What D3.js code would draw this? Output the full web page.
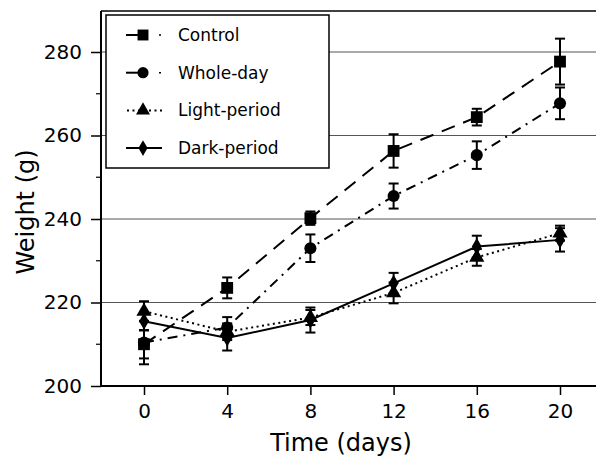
<!DOCTYPE html>
<html>
<head>
<meta charset="utf-8">
<script src="https://cdn.jsdelivr.net/npm/d3@7"></script>
<style>
  html, body { margin: 0; padding: 0; background: #fff; }
  svg { display: block; }
  text { font-family: "DejaVu Sans", Verdana, sans-serif; fill: #000; }
</style>
</head>
<body>
<svg id="chart" width="596" height="461"></svg>
<script>
// ---- data ----
const days = [0, 4, 8, 12, 16, 20];
const seriesNames = ["Control", "Whole-day", "Light-period", "Dark-period"];
const controlMean = [210.0, 223.5, 240.2, 256.3, 264.4, 277.7];
const controlErr  = [3.4, 2.5, 1.6, 4.0, 2.0, 5.5];
const wholeMean   = [210.4, 214.0, 233.0, 245.5, 255.3, 267.7];
const wholeErr    = [5.2, 2.5, 3.3, 3.0, 3.3, 3.8];
const lightMean   = [217.9, 213.0, 216.4, 222.3, 230.8, 236.6];
const lightErr    = [2.4, 2.0, 1.8, 2.5, 2.0, 1.8];
const darkMean    = [215.5, 211.5, 215.8, 224.6, 233.4, 235.0];
const darkErr     = [2.2, 3.0, 3.0, 2.5, 2.6, 2.8];
const yTicks = [200, 220, 240, 260, 280];
const yMinorTicks = [210, 230, 250, 270];
const xTicks = [0, 4, 8, 12, 16, 20];

const series = [
  {name: seriesNames[0], mean: controlMean, err: controlErr, sym: d3.symbolSquare, size: 140, dash: "14,9"},
  {name: seriesNames[1], mean: wholeMean, err: wholeErr, sym: d3.symbolCircle, size: 115, dash: "10,6,2,6"},
  {name: seriesNames[2], mean: lightMean, err: lightErr, sym: d3.symbolTriangle, size: 100, dash: "2,3.5"},
  {name: seriesNames[3], mean: darkMean, err: darkErr, sym: d3.symbolDiamond, size: 85, dash: null}
];

const svg = d3.select("#chart");
const pLeft = 101, pTop = 11, pBottom = 386, pRight = 596;

const x = d3.scaleLinear().domain([0, 20]).range([144, 560]);
const y = d3.scaleLinear().domain([200, 280]).range([pBottom, 52]);

// gridlines
svg.append("g").selectAll("line").data(yTicks.slice(1)).join("line")
  .attr("x1", pLeft).attr("x2", pRight)
  .attr("y1", d => y(d)).attr("y2", d => y(d))
  .attr("stroke", "#555").attr("stroke-width", 1.2);

// top frame
svg.append("line").attr("x1", pLeft).attr("x2", pRight).attr("y1", pTop).attr("y2", pTop)
  .attr("stroke", "#000").attr("stroke-width", 1.5);

// y axis
const yAxis = svg.append("g").attr("transform", `translate(${pLeft},0)`)
  .call(d3.axisLeft(y).tickValues(yTicks).tickSize(10).tickPadding(9).tickFormat(d3.format("d")));
yAxis.select(".domain").remove();
yAxis.selectAll(".tick line").attr("stroke-width", 1.5);
yAxis.selectAll("text").style("font-size", "20px").attr("font-family", null);
svg.append("g").attr("transform", `translate(${pLeft},0)`)
  .selectAll("line").data(yMinorTicks).join("line")
  .attr("x1", -5).attr("x2", 0).attr("y1", d => y(d)).attr("y2", d => y(d))
  .attr("stroke", "#000").attr("stroke-width", 1.2);
svg.append("line").attr("x1", pLeft).attr("x2", pLeft).attr("y1", pTop).attr("y2", pBottom)
  .attr("stroke", "#000").attr("stroke-width", 2);

// x axis
const xAxis = svg.append("g").attr("transform", `translate(0,${pBottom})`)
  .call(d3.axisBottom(x).tickValues(xTicks).tickSize(9).tickPadding(9));
xAxis.select(".domain").remove();
xAxis.selectAll(".tick line").attr("stroke-width", 1.5);
xAxis.selectAll("text").style("font-size", "20px").attr("font-family", null);
svg.append("line").attr("x1", pLeft).attr("x2", pRight).attr("y1", pBottom).attr("y2", pBottom)
  .attr("stroke", "#000").attr("stroke-width", 2);

// axis titles
svg.append("text").attr("x", 341).attr("y", 451).attr("text-anchor", "middle")
  .style("font-size", "24px").text("Time (days)");
svg.append("text").attr("transform", "translate(34,212) rotate(-90)").attr("text-anchor", "middle")
  .style("font-size", "24px").text("Weight (g)");

// series
const line = d3.line().x((d, i) => x(days[i])).y(d => y(d));
series.forEach(s => {
  const g = svg.append("g");
  g.append("path").datum(s.mean).attr("d", line)
    .attr("fill", "none").attr("stroke", "#000").attr("stroke-width", 2)
    .attr("stroke-dasharray", s.dash);
  const eb = g.selectAll(".eb").data(s.mean).join("g");
  eb.append("line").attr("x1", (d, i) => x(days[i])).attr("x2", (d, i) => x(days[i]))
    .attr("y1", (d, i) => y(d - s.err[i])).attr("y2", (d, i) => y(d + s.err[i]))
    .attr("stroke", "#000").attr("stroke-width", 2);
  [-1, 1].forEach(sg => {
    eb.append("line").attr("x1", (d, i) => x(days[i]) - 5).attr("x2", (d, i) => x(days[i]) + 5)
      .attr("y1", (d, i) => y(d + sg * s.err[i])).attr("y2", (d, i) => y(d + sg * s.err[i]))
      .attr("stroke", "#000").attr("stroke-width", 2);
  });
  g.selectAll(".m").data(s.mean).join("path")
    .attr("transform", (d, i) => `translate(${x(days[i])},${y(d)})`)
    .attr("d", d3.symbol().type(s.sym).size(s.size)).attr("fill", "#000");
});

// legend
const lg = svg.append("g");
lg.append("rect").attr("x", 106).attr("y", 15).attr("width", 223).attr("height", 153)
  .attr("fill", "#fff").attr("stroke", "#000").attr("stroke-width", 1.5);
series.forEach((s, i) => {
  const ly = 35 + i * 37.7;
  if (s.dash === null) {
    lg.append("line").attr("x1", 126).attr("x2", 162).attr("y1", ly).attr("y2", ly)
      .attr("stroke", "#000").attr("stroke-width", 2);
  } else if (s.name === "Light-period") {
    lg.append("line").attr("x1", 127).attr("x2", 162).attr("y1", ly).attr("y2", ly)
      .attr("stroke", "#000").attr("stroke-width", 2).attr("stroke-dasharray", "2,3.5");
  } else {
    lg.append("line").attr("x1", 126).attr("x2", 140).attr("y1", ly).attr("y2", ly)
      .attr("stroke", "#000").attr("stroke-width", 2);
    lg.append("line").attr("x1", 159).attr("x2", 161).attr("y1", ly).attr("y2", ly)
      .attr("stroke", "#000").attr("stroke-width", 1.5);
  }
  lg.append("path").attr("transform", `translate(143,${ly})`)
    .attr("d", d3.symbol().type(s.sym).size(s.size * 0.85)).attr("fill", "#000");
  lg.append("text").attr("x", 178).attr("y", ly + 6).style("font-size", "17px").text(s.name);
});
</script>
</body>
</html>
